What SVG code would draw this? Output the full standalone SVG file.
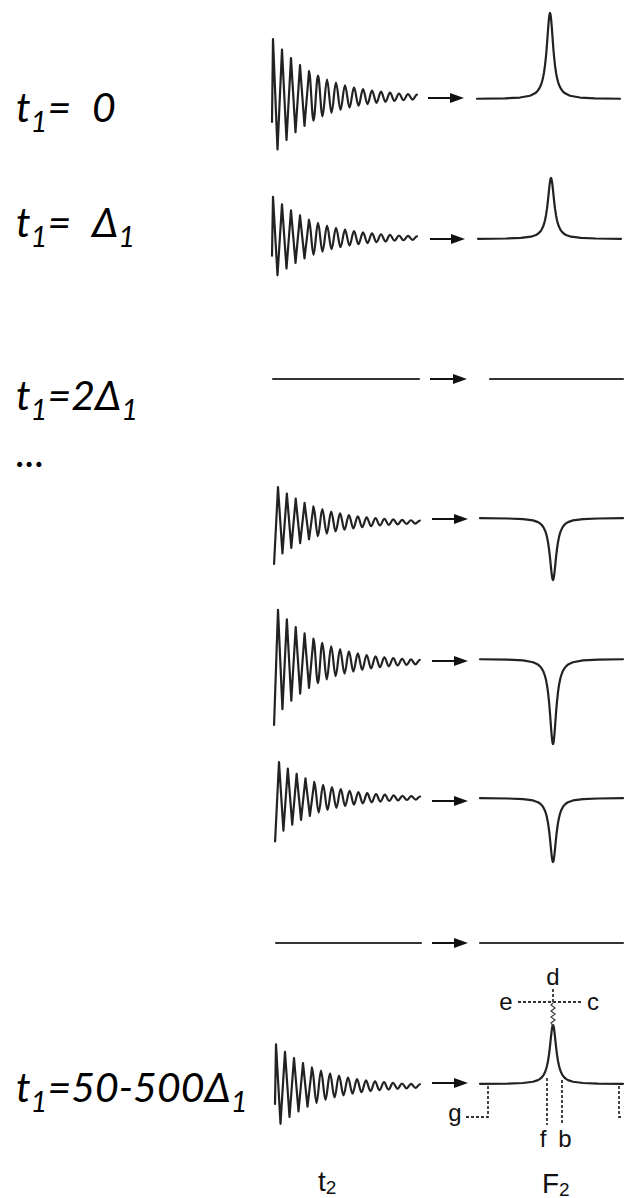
<svg xmlns="http://www.w3.org/2000/svg" width="625" height="1198" viewBox="0 0 625 1198">
<style>
.lbl{font-family:Lato,'Open Sans','Noto Sans',sans-serif;font-style:italic;font-size:41px;fill:#000}
.sub{font-size:29px}
.sig{fill:none;stroke:#222;stroke-width:2.2;stroke-linejoin:round;stroke-linecap:round}
.flat{fill:none;stroke:#333;stroke-width:2.2;stroke-linecap:round}
.arr{stroke:#111;stroke-width:2;marker-end:url(#ah)}
.dash{fill:none;stroke:#333;stroke-width:1.8;stroke-dasharray:3 2}
.ann{font-family:'Liberation Sans',Arial,sans-serif;font-size:24px;fill:#111}
.axis{font-size:28px}
.axsub{font-size:19px}
</style>
<defs>
<marker id="ah" viewBox="0 0 14 10" refX="4" refY="5" markerWidth="14" markerHeight="10" markerUnits="userSpaceOnUse" orient="auto">
<path d="M0,0 L14,5 L0,10 z" fill="#111"/>
</marker>
<path id="fidA" vector-effect="non-scaling-stroke" d="M -1 25 L 0 -58 L 4.5 52.5 L 9 -47.5 L 13.5 43 L 18 -38.9 L 22.5 35.2 L 27 -31.8 L 31.5 28.8 L 36 -26 C 37.6 -26 38.9 23.6 40.5 23.6 S 43.4 -21.3 45 -21.3 S 47.9 19.3 49.5 19.3 S 52.4 -17.5 54 -17.5 S 56.9 15.8 58.5 15.8 S 61.4 -14.3 63 -14.3 S 65.9 12.9 67.5 12.9 S 70.4 -11.7 72 -11.7 S 74.9 10.6 76.5 10.6 S 79.4 -9.6 81 -9.6 S 83.9 8.7 85.5 8.7 S 88.4 -7.8 90 -7.8 S 92.9 7.1 94.5 7.1 S 97.4 -6.4 99 -6.4 S 101.9 5.8 103.5 5.8 S 106.4 -5.3 108 -5.3 S 110.9 4.8 112.5 4.8 S 115.4 -4.3 117 -4.3 S 119.9 3.9 121.5 3.9 S 124.4 -3.5 126 -3.5 S 128.9 3.2 130.5 3.2 S 133.4 -2.9 135 -2.9 S 137.9 2.6 139.5 2.6 S 142.4 -2.4 144 -2.4"/>
<path id="fidB" vector-effect="non-scaling-stroke" d="M -4 70 L 0 -58 L 4.5 52.5 L 9 -47.5 L 13.5 43 L 18 -38.9 L 22.5 35.2 L 27 -31.8 L 31.5 28.8 L 36 -26 C 37.6 -26 38.9 23.6 40.5 23.6 S 43.4 -21.3 45 -21.3 S 47.9 19.3 49.5 19.3 S 52.4 -17.5 54 -17.5 S 56.9 15.8 58.5 15.8 S 61.4 -14.3 63 -14.3 S 65.9 12.9 67.5 12.9 S 70.4 -11.7 72 -11.7 S 74.9 10.6 76.5 10.6 S 79.4 -9.6 81 -9.6 S 83.9 8.7 85.5 8.7 S 88.4 -7.8 90 -7.8 S 92.9 7.1 94.5 7.1 S 97.4 -6.4 99 -6.4 S 101.9 5.8 103.5 5.8 S 106.4 -5.3 108 -5.3 S 110.9 4.8 112.5 4.8 S 115.4 -4.3 117 -4.3 S 119.9 3.9 121.5 3.9 S 124.4 -3.5 126 -3.5 S 128.9 3.2 130.5 3.2 S 133.4 -2.9 135 -2.9 S 137.9 2.6 139.5 2.6 S 142.4 -2.4 144 -2.4"/>
<path id="lor" vector-effect="non-scaling-stroke" d="M -73 -0.3 L -45 -0.8 L -30 -1.7 L -20 -3.8 L -15 -6.6 L -13 -8.6 L -11 -11.7 L -9.5 -15.1 L -8 -20 L -7 -24.6 L -6 -30.8 L -5 -39 L -4 -50 L -3.5 -56.6 L -3 -64 L -2.5 -71.9 L -2 -80 L -1.5 -87.7 L -1 -94.1 L -0.5 -98.5 L 0 -100 L 0.5 -98.5 L 1 -94.1 L 1.5 -87.7 L 2 -80 L 2.5 -71.9 L 3 -64 L 3.5 -56.6 L 4 -50 L 5 -39 L 6 -30.8 L 7 -24.6 L 8 -20 L 9.5 -15.1 L 11 -11.7 L 13 -8.6 L 15 -6.6 L 20 -3.8 L 30 -1.7 L 45 -0.8 L 70 -0.3"/>
</defs>
<rect width="625" height="1198" fill="#fff"/>

<g id="labels">
<text class="lbl" x="16" y="122">t<tspan class="sub" dy="10">1</tspan><tspan dy="-10">=</tspan><tspan x="92">0</tspan></text>
<text class="lbl" x="16" y="237">t<tspan class="sub" dy="10">1</tspan><tspan dy="-10">=</tspan><tspan x="92">Δ</tspan><tspan class="sub" dy="10">1</tspan></text>
<text class="lbl" x="16" y="410">t<tspan class="sub" dy="10">1</tspan><tspan dy="-10">=2Δ</tspan><tspan class="sub" dy="10">1</tspan></text>
<text class="lbl" x="16" y="467">...</text>
<text class="lbl" x="16" y="1102">t<tspan class="sub" dy="10">1</tspan><tspan dy="-10">=50-500Δ</tspan><tspan class="sub" dy="10">1</tspan></text>
</g>

<g id="row1">
<use href="#fidA" class="sig" transform="translate(273,97)"/>
<use href="#lor" class="sig" transform="translate(550,99) scale(1,0.86)"/>
</g>
<g id="row2">
<use href="#fidA" class="sig" transform="translate(273,238) scale(1,0.71)"/>
<use href="#lor" class="sig" transform="translate(551,239) scale(1,0.61)"/>
</g>
<g id="row3">
<line class="flat" x1="273" y1="379" x2="419" y2="379"/>
<line class="flat" x1="490" y1="379" x2="623" y2="379"/>
</g>
<g id="row5">
<use href="#fidB" class="sig" transform="translate(278,522) scale(0.985,0.6)"/>
<use href="#lor" class="sig" transform="translate(553,518) scale(1,-0.62)"/>
</g>
<g id="row6">
<use href="#fidB" class="sig" transform="translate(278,662) scale(0.985,0.9)"/>
<use href="#lor" class="sig" transform="translate(553,659) scale(1,-0.85)"/>
</g>
<g id="row7">
<use href="#fidB" class="sig" transform="translate(279,798) scale(0.98,0.62)"/>
<use href="#lor" class="sig" transform="translate(553,798) scale(1,-0.64)"/>
</g>
<g id="row8">
<line class="flat" x1="276" y1="943" x2="421" y2="943"/>
<line class="flat" x1="480" y1="943" x2="623" y2="943"/>
</g>
<g id="row9">
<use href="#fidA" class="sig" transform="translate(276,1086) scale(1,0.72)"/>
<use href="#lor" class="sig" transform="translate(553,1084) scale(1,0.59)"/>
<path d="M 553 1026 L 551 1023 L 555 1020 L 551 1017 L 555 1014 L 551 1011 L 555 1008 L 551 1005 L 553 1003" fill="none" stroke="#444" stroke-width="1.3"/>
<path class="dash" d="M 553 989 V 1003"/>
<path class="dash" d="M 518 1002 H 582"/>
<path class="dash" d="M 547 1078 V 1125"/>
<path class="dash" d="M 562 1080 V 1125"/>
<path class="dash" d="M 488 1086 V 1117 H 466"/>
<path class="dash" d="M 619 1086 V 1117 H 622"/>
<text class="ann" x="553" y="985" text-anchor="middle">d</text>
<text class="ann" x="506" y="1010" text-anchor="middle">e</text>
<text class="ann" x="593" y="1010" text-anchor="middle">c</text>
<text class="ann" x="455" y="1121" text-anchor="middle">g</text>
<text class="ann" x="543" y="1147" text-anchor="middle">f</text>
<text class="ann" x="565" y="1147" text-anchor="middle">b</text>
</g>
<g id="axes">
<text class="ann axis" x="318" y="1191">t<tspan class="axsub" dy="3">2</tspan></text>
<text class="ann axis" x="542" y="1193">F<tspan class="axsub" dy="3">2</tspan></text>
</g>

<g id="connectors">
<line class="arr" x1="428" y1="98" x2="454" y2="98"/>
<line class="arr" x1="430" y1="239" x2="455" y2="239"/>
<line class="arr" x1="430" y1="379" x2="457" y2="379"/>
<line class="arr" x1="432" y1="519" x2="458" y2="519"/>
<line class="arr" x1="432" y1="661" x2="458" y2="661"/>
<line class="arr" x1="432" y1="801" x2="458" y2="801"/>
<line class="arr" x1="432" y1="943" x2="458" y2="943"/>
<line class="arr" x1="432" y1="1083" x2="458" y2="1083"/>
</g>
</svg>
